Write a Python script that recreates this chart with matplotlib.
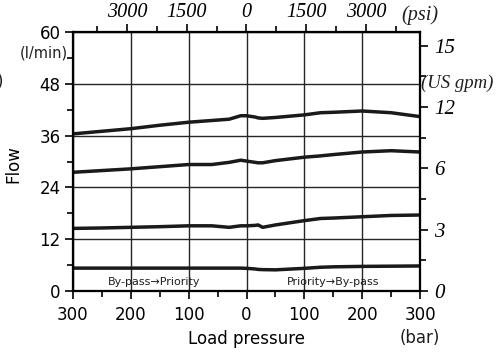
"""
Priority valve flow vs. load pressure, both flow directions.
"""

import matplotlib
matplotlib.use("Agg")
import matplotlib.pyplot as plt
import numpy as np

plt.rcParams["font.family"] = "DejaVu Sans"
plt.rcParams["text.color"] = "#1f1f1f"

# load pressure in bar (negative side = by-pass -> priority)
pressure = [-300, -250, -200, -150, -100, -60, -30, -10, 0, 15, 20, 28, 50, 100, 128, 150, 200, 250, 300]

# flow curves in l/min
flow_a = [36.4, 37.0, 37.6, 38.4, 39.1, 39.5, 39.8, 40.6, 40.6, 40.3, 40.1, 40.0, 40.2, 40.8, 41.3, 41.4, 41.7, 41.3, 40.4]
flow_b = [27.5, 27.9, 28.3, 28.8, 29.3, 29.3, 29.8, 30.3, 30.1, 29.8, 29.7, 29.7, 30.2, 31.0, 31.3, 31.6, 32.2, 32.5, 32.2]
flow_c = [14.5, 14.6, 14.75, 14.9, 15.1, 15.1, 14.75, 15.1, 15.1, 15.2, 15.3, 14.75, 15.3, 16.3, 16.8, 16.9, 17.2, 17.5, 17.6]
flow_d = [5.3, 5.3, 5.3, 5.3, 5.3, 5.3, 5.3, 5.3, 5.25, 5.1, 5.0, 4.95, 4.9, 5.25, 5.5, 5.6, 5.7, 5.75, 5.8]

bar_ticks = [-300, -200, -100, 0, 100, 200, 300]
flow_ticks = [0, 12, 24, 36, 48, 60]
psi_ticks = [-3000, -1500, 0, 1500, 3000]
psi_minor = [-3750, -2250, -750, 750, 2250, 3750]
gpm_labels = ["0", "3", "6", "12", "15"]
gpm_pos = [0, 14.2, 28.4, 42.6, 56.8]
PSI_PER_BAR = 14.5038

serif_it = {"family": "Liberation Serif", "style": "italic"}

fig = plt.figure(figsize=(5.03, 3.54), dpi=100)
fig.patch.set_facecolor("white")
ax = fig.add_axes([73 / 503, 1 - 291 / 354, 347 / 503, 259 / 354])

for flow in (flow_a, flow_b, flow_c, flow_d):
    ax.plot(pressure, flow, color="#1a1a1a", lw=2.5, solid_capstyle="butt", zorder=5)

ax.set_xlim(-300, 300)
ax.set_ylim(0, 60)
ax.set_xticks(bar_ticks)
ax.set_xticklabels([str(abs(t)) for t in bar_ticks], fontsize=12)
ax.set_xticks([-250, -150, -50, 50, 150, 250], minor=True)
ax.set_yticks(flow_ticks)
ax.set_yticklabels([str(t) for t in flow_ticks], fontsize=12)
ax.set_yticks([6, 18, 30, 42, 54], minor=True)
ax.tick_params(axis="both", which="major", length=6, width=1.2, direction="out", pad=3)
ax.tick_params(axis="both", which="minor", length=4, width=1.2, direction="out")
ax.tick_params(axis="x", pad=5)
ax.grid(True, which="major", color="#262626", lw=1.0)
for s in ax.spines.values():
    s.set_linewidth(1.5)

ax.set_xlabel("Load pressure", fontsize=12, labelpad=4)
ax.set_ylabel("Flow", fontsize=12)
ax.yaxis.set_label_coords(-0.147, 0.49)
ax.text(300, -10.9, "(bar)", fontsize=12, ha="center", va="center")
ax.text(-0.014, 55.1, "(l/min)", fontsize=10.5, ha="right", va="center",
        transform=ax.get_yaxis_transform())

ax.text(-160, 2.2, "By-pass\u2192Priority", fontsize=8, ha="center", va="center")
ax.text(150, 2.2, "Priority\u2192By-pass", fontsize=8, ha="center", va="center")

# top axis in psi
top = ax.twiny()
top.set_xlim(-300, 300)
top.set_xticks([p / PSI_PER_BAR for p in psi_ticks])
top.set_xticklabels([str(abs(p)) for p in psi_ticks], fontdict=serif_it, fontsize=14.5)
top.set_xticks([p / PSI_PER_BAR for p in psi_minor], minor=True)
top.tick_params(axis="x", which="major", length=6, width=1.2, pad=1)
top.tick_params(axis="x", which="minor", length=4, width=1.2)
top.text(300, 63.9, "(psi)", fontdict=serif_it, fontsize=14.5, ha="center", va="center",
         transform=ax.transData)

# right axis in US gpm
right = ax.twinx()
right.set_ylim(0, 60)
right.set_yticks(gpm_pos)
right.set_yticklabels(gpm_labels, fontdict=serif_it, fontsize=15)
right.set_yticks([7.1, 21.3, 35.5, 49.7], minor=True)
right.tick_params(axis="y", which="major", length=6, width=1.2, pad=4)
right.tick_params(axis="y", which="minor", length=4, width=1.2)
right.text(302, 48, "(US gpm)", fontdict=serif_it, fontsize=13.5, ha="left", va="center",
           transform=ax.transData)
for a in (top, right):
    for s in a.spines.values():
        s.set_linewidth(1.5)

# stray bracket at the left margin
fig.text(0.0, 1 - 82 / 354, ")", fontsize=12, ha="center", va="center")

fig.savefig("out.png", dpi=100, facecolor="white")
